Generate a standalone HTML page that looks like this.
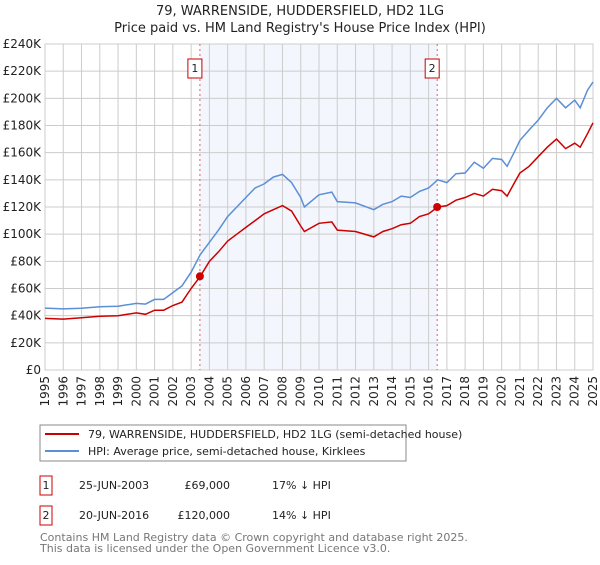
<!DOCTYPE html>
<html><head><meta charset="utf-8"><style>
body{margin:0;width:600px;height:560px;background:#fff;font-family:"Liberation Sans","DejaVu Sans",sans-serif;overflow:hidden}
text{font-family:"DejaVu Sans","Liberation Sans",sans-serif}
</style></head><body>
<svg id="c" width="600" height="560" xmlns="http://www.w3.org/2000/svg">
<text x="300" y="15" text-anchor="middle" font-size="13" fill="#222">79, WARRENSIDE, HUDDERSFIELD, HD2 1LG</text>
<text x="300" y="32" text-anchor="middle" font-size="13" fill="#222">Price paid vs. HM Land Registry's House Price Index (HPI)</text>
<g id="plot"></g>
<g>
<rect x="40" y="425" width="366" height="36" fill="#fff" stroke="#888"/>
<line x1="45" y1="434" x2="79" y2="434" stroke="#cc0000" stroke-width="2"/>
<text x="88" y="438" font-size="11" fill="#222">79, WARRENSIDE, HUDDERSFIELD, HD2 1LG (semi-detached house)</text>
<line x1="45" y1="451" x2="79" y2="451" stroke="#5b8fd6" stroke-width="2"/>
<text x="88" y="455" font-size="11" fill="#222">HPI: Average price, semi-detached house, Kirklees</text>
</g>
<g font-size="11" fill="#222">
<rect x="40" y="476" width="12" height="19" fill="#fff" stroke="#cc0000"/>
<text x="46" y="489" text-anchor="middle">1</text>
<text x="79" y="489">25-JUN-2003</text>
<text x="230" y="489" text-anchor="end">£69,000</text>
<text x="272" y="489">17% ↓ HPI</text>
<rect x="40" y="506" width="12" height="19" fill="#fff" stroke="#cc0000"/>
<text x="46" y="519" text-anchor="middle">2</text>
<text x="79" y="519">20-JUN-2016</text>
<text x="230" y="519" text-anchor="end">£120,000</text>
<text x="272" y="519">14% ↓ HPI</text>
</g>
<text x="40" y="541" font-size="11" fill="#777">Contains HM Land Registry data © Crown copyright and database right 2025.</text>
<text x="40" y="552" font-size="11" fill="#777">This data is licensed under the Open Government Licence v3.0.</text>
</svg>
<script>
const hpiYears=[1995,1996,1997,1998,1999,2000,2000.5,2001,2001.5,2002,2002.5,2003,2003.5,2004,2004.5,2005,2005.5,2006,2006.5,2007,2007.5,2008,2008.5,2009,2009.2,2010,2010.7,2011,2012,2013,2013.5,2014,2014.5,2015,2015.5,2016,2016.5,2017,2017.5,2018,2018.5,2019,2019.5,2020,2020.3,2020.7,2021,2021.5,2022,2022.5,2023,2023.5,2024,2024.3,2024.7,2025];
const hpiValues=[45.6,45,45.5,46.5,47,49,48.5,52,52,57,62,72,85,94,103,113,120,127,134,137,142,144,138,127,120,129,131,124,123,118,122,124,128,127,131.5,134,140,138,144.5,145,153,148.5,155.8,155,150,160.7,169,176.7,184,193,200,193,198.7,193,206,212];
const priceValues=[38,37.5,38.5,39.5,40,42,41,44,44,47.5,50,60,69,80,87,95,100,105,110,115,118,121,117,106,102,108,109,103,102,98,102,104,107,108,113,115,120,121,125,127,130,128,133,132,128,138,145,150,157,164,170,163,167,164,174,182];
const saleYears=[2003.48,2016.47];
const salePrices=[69,120];
const yTicks=[0,20,40,60,80,100,120,140,160,180,200,220,240];
const xTicks=[1995,1996,1997,1998,1999,2000,2001,2002,2003,2004,2005,2006,2007,2008,2009,2010,2011,2012,2013,2014,2015,2016,2017,2018,2019,2020,2021,2022,2023,2024,2025];
const X0=45,X1=593,Y0=370,Y1=44;
const xs=y=>X0+(y-1995)/30*(X1-X0);
const ys=v=>Y0-v/240*(Y0-Y1);
const NS="http://www.w3.org/2000/svg";
const g=document.getElementById('plot');
function mk(t,a){const e=document.createElementNS(NS,t);for(const k in a)e.setAttribute(k,a[k]);g.appendChild(e);return e;}
let sh=mk('rect',{x:xs(saleYears[0]),y:Y1,width:xs(saleYears[1])-xs(saleYears[0]),height:Y0-Y1,fill:'#f3f6fd'});


yTicks.forEach(v=>{
 let l=mk('line',{x1:X0,x2:X1,y1:ys(v),y2:ys(v),stroke:'#cccccc'});
 
 
 let t=mk('text',{x:X0-4,y:ys(v)+4,'text-anchor':'end','font-size':'12',fill:'#222'});
 t.textContent='£'+v+(v?'K':'');
 
 
});
xTicks.forEach(yr=>{
 let l=mk('line',{x1:xs(yr),x2:xs(yr),y1:Y1,y2:Y0,stroke:'#cccccc'});
 
 
 let t=mk('text',{transform:`translate(${xs(yr)+4},${Y0+6}) rotate(-90)`,'text-anchor':'end','font-size':'12',fill:'#222'});
 t.textContent=yr;
 
 
});
let ax=mk('rect',{x:X0,y:Y1,width:X1-X0,height:Y0-Y1,fill:'none',stroke:'#cccccc'});


saleYears.forEach((yr,i)=>{
 let l=mk('line',{x1:xs(yr),x2:xs(yr),y1:Y1,y2:Y0,stroke:'#e06060','stroke-dasharray':'2,3'});
 
 
 let r=mk('rect',{x:xs(yr)-12,y:59,width:14,height:19,fill:'#fff',stroke:'#cc0000'});
 
 
 let t=mk('text',{x:xs(yr)-5,y:72,'text-anchor':'middle','font-size':'11',fill:'#222'});
 t.textContent=String(i+1);
 
 
});
const pts=vals=>hpiYears.map((y,i)=>xs(y).toFixed(1)+','+ys(vals[i]).toFixed(1)).join(' ');
let hl=mk('polyline',{points:pts(hpiValues),fill:'none',stroke:'#5b8fd6','stroke-width':'1.5'});


let pl=mk('polyline',{points:pts(priceValues),fill:'none',stroke:'#cc0000','stroke-width':'1.5'});


saleYears.forEach((yr,i)=>{
 let c=mk('circle',{cx:xs(yr),cy:ys(salePrices[i]),r:4,fill:'#cc0000'});
 
 
});
</script>
</body></html>
